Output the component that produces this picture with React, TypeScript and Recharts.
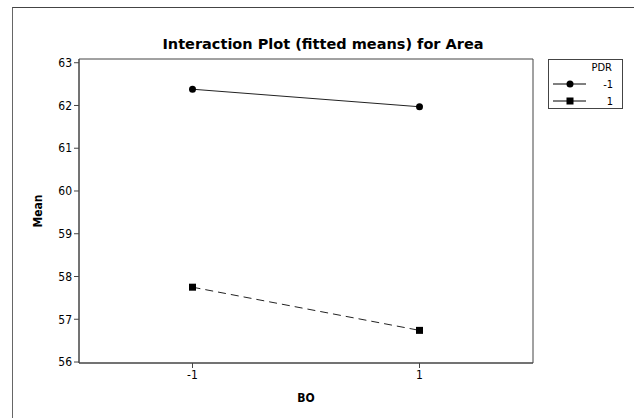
import { LineChart, Line, XAxis, YAxis, ReferenceArea } from "recharts";

// Interaction plot: fitted means of Area by BO, one line per PDR level.
const BO_LEVELS = [-1, 1];
const PDR_LOW = [62.38, 61.97];
const PDR_HIGH = [57.75, 56.74];
const Y_TICKS = [56, 57, 58, 59, 60, 61, 62, 63];
const X_TICKS = [-1, 1];

const FONT = '"DejaVu Sans Condensed", "DejaVu Sans", Tahoma, sans-serif';
const TITLE_FONT = '"DejaVu Sans", Tahoma, sans-serif';
const INK = "#000";
const AXIS = "#444";

const lowData = BO_LEVELS.map((bo, i) => ({ bo, mean: PDR_LOW[i] }));
const highData = BO_LEVELS.map((bo, i) => ({ bo, mean: PDR_HIGH[i] }));

const SquareDot = (props: any) => {
  const { cx, cy } = props;
  if (cx == null || cy == null) return null;
  return <rect x={cx - 3.5} y={cy - 3.5} width={7} height={7} fill={INK} />;
};

function LegendBox() {
  return (
    <div
      style={{
        position: "absolute",
        left: 548,
        top: 59,
        width: 73,
        height: 48,
        border: `1px solid ${AXIS}`,
        background: "#fff",
        fontFamily: FONT,
        fontSize: 11,
        color: "#000",
      }}
    >
      <div style={{ position: "absolute", right: 10, top: 1 }}>PDR</div>
      <svg width={73} height={48} style={{ position: "absolute", left: 0, top: 0 }}>
        <line x1={4} x2={37} y1={24} y2={24} stroke={INK} strokeWidth={1} />
        <circle cx={21} cy={24} r={3.5} fill={INK} />
        <line x1={4} x2={37} y1={41} y2={41} stroke={INK} strokeWidth={1} />
        <rect x={17.5} y={37.5} width={7} height={7} fill={INK} />
        <text x={64} y={28} textAnchor="end" fontFamily={FONT} fontSize={11}>-1</text>
        <text x={64} y={45} textAnchor="end" fontFamily={FONT} fontSize={11}>1</text>
      </svg>
    </div>
  );
}

export default function App() {
  return (
    <div
      style={{
        position: "absolute",
        left: 0,
        top: 0,
        width: 634,
        height: 418,
        background: "#fff",
        overflow: "hidden",
      }}
    >
      <div
        style={{
          position: "absolute",
          left: 12,
          top: 7,
          width: 700,
          height: 500,
          borderLeft: "1px solid #666",
          borderTop: "1px solid #444",
        }}
      />
      <div
        style={{
          position: "absolute",
          left: 0,
          width: 646,
          top: 36,
          textAlign: "center",
          fontFamily: TITLE_FONT,
          fontWeight: "bold",
          fontSize: 14.5,
          color: "#000",
        }}
      >
        Interaction Plot (fitted means) for Area
      </div>
      <LineChart
        width={634}
        height={418}
        margin={{ top: 59, right: 101, bottom: 25, left: 0 }}
        style={{ position: "absolute", left: 0, top: 0 }}
      >
        <ReferenceArea
          x1={-2}
          x2={2}
          y1={55.977}
          y2={63.087}
          fill="none"
          stroke={AXIS}
          strokeWidth={1}
          ifOverflow="visible"
        />
        <XAxis
          type="number"
          dataKey="bo"
          domain={[-2, 2]}
          ticks={X_TICKS}
          allowDataOverflow
          height={30}
          tickSize={5}
          stroke={AXIS}
          tick={{ fill: "#000", fontSize: 12, fontFamily: FONT }}
          label={{
            value: "BO",
            position: "insideBottom",
            offset: -9,
            style: { fontFamily: FONT, fontWeight: "bold", fontSize: 12, fill: "#000" },
          }}
        />
        <YAxis
          type="number"
          domain={[55.977, 63.087]}
          ticks={Y_TICKS}
          allowDataOverflow
          width={79}
          tickSize={5}
          stroke={AXIS}
          tick={{ fill: "#000", fontSize: 12, fontFamily: FONT }}
          label={{
            value: "Mean",
            angle: -90,
            position: "insideLeft",
            offset: 38,
            style: {
              fontFamily: FONT,
              fontWeight: "bold",
              fontSize: 12,
              fill: "#000",
              textAnchor: "middle",
            },
          }}
        />
        <Line
          data={lowData}
          dataKey="mean"
          name="-1"
          stroke="#222"
          strokeWidth={1}
          dot={{ r: 3.5, fill: INK, stroke: INK, strokeWidth: 0 }}
          isAnimationActive={false}
        />
        <Line
          data={highData}
          dataKey="mean"
          name="1"
          stroke="#222"
          strokeWidth={1}
          strokeDasharray="8 5"
          dot={<SquareDot />}
          isAnimationActive={false}
        />
      </LineChart>
      <LegendBox />
    </div>
  );
}
